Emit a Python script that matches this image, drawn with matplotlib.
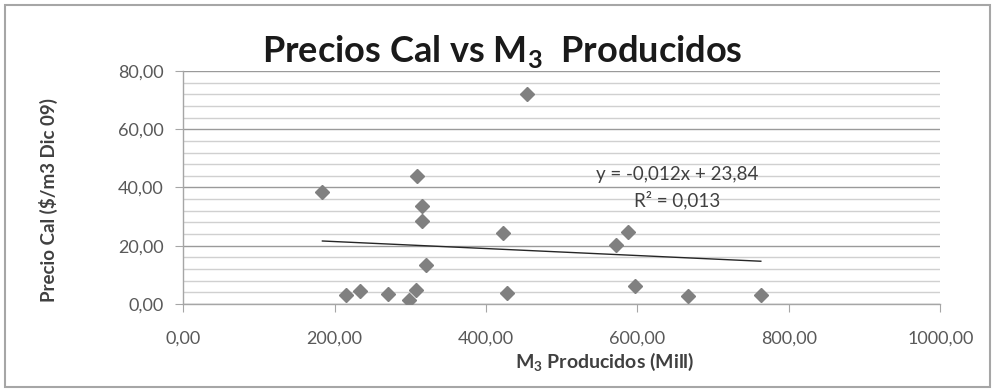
import matplotlib
matplotlib.use("Agg")
import matplotlib.pyplot as plt
from matplotlib.ticker import MultipleLocator, FuncFormatter
from matplotlib.patches import Rectangle
import numpy as np

# ---- data ----
m3_producidos = [184, 215, 234, 270, 298, 307, 309, 316, 316, 321, 422, 428, 454, 572, 587, 597, 667, 763]
precio_cal = [38.3, 3.2, 4.3, 3.4, 1.3, 4.7, 43.8, 33.5, 28.5, 13.3, 24.5, 3.8, 72.2, 20.1, 24.7, 6.1, 2.6, 3.1]
trend_slope = -0.012
trend_intercept = 23.84
x_ticks = [0, 200, 400, 600, 800, 1000]
y_ticks = [0, 20, 40, 60, 80]

FAM = ['Lato', 'DejaVu Sans']
plt.rcParams['font.family'] = FAM
plt.rcParams['mathtext.fontset'] = 'custom'
plt.rcParams['mathtext.rm'] = 'Lato'
plt.rcParams['mathtext.bf'] = 'Lato:bold'

fig = plt.figure(figsize=(9.95, 3.90), dpi=100)
fig.patch.set_facecolor('white')
fig.patches.append(Rectangle((5/995, 1-387/390), 985/995, 382/390, transform=fig.transFigure,
                             fill=False, edgecolor='#a6a6a6', lw=1.5))

ax = fig.add_axes([0.184, 0.2205, 0.761, 0.5975])
ax.set_xlim(0, 1000)
ax.set_ylim(0, 80)

ax.set_xticks(x_ticks)
ax.set_yticks(y_ticks)
ax.yaxis.set_minor_locator(MultipleLocator(4))
ax.grid(axis='y', which='minor', color='#d0d0d0', lw=1.0)
ax.grid(axis='y', which='major', color='#9a9a9a', lw=1.0)
ax.set_axisbelow(True)

fmt = FuncFormatter(lambda v, p: f"{v:.2f}".replace('.', ','))
ax.xaxis.set_major_formatter(fmt)
ax.yaxis.set_major_formatter(fmt)

for s in ['top', 'right']:
    ax.spines[s].set_visible(False)
for s in ['left', 'bottom']:
    ax.spines[s].set_color('#a6a6a6')
    ax.spines[s].set_linewidth(1.0)

ax.tick_params(axis='x', which='major', direction='out', length=6, color='#a6a6a6',
               pad=13, labelsize=13, labelcolor='#595959')
ax.tick_params(axis='y', which='major', direction='out', length=6, color='#a6a6a6',
               pad=8, labelsize=13, labelcolor='#595959')
ax.tick_params(axis='y', which='minor', length=0)

ax.plot(m3_producidos, precio_cal, linestyle='none', marker='D', markersize=7.5,
        color='#808080', markeredgecolor='#808080', zorder=3)

xs = np.array([min(m3_producidos), max(m3_producidos)])
ax.plot(xs, trend_slope * xs + trend_intercept, color='#262626', lw=1.0, zorder=2)

ax.text(652, 44.3, "y = -0,012x + 23,84", ha='center', va='center', fontsize=13.5, color='#404040')
ax.text(652, 35.7, "R² = 0,013", ha='center', va='center', fontsize=13.5, color='#404040')

fig.text(502/995, 1-52/390, r"Precios Cal vs M$_\mathbf{3}$  Producidos", ha='center', va='center',
         fontsize=26, fontweight='bold', color='#1a1a1a')
fig.text(605/995, 1-362/390, r"M$_\mathbf{3}$ Producidos (Mill)", ha='center', va='center',
         fontsize=14, fontweight='bold', color='#404040')
fig.text(48/995, 1-200/390, "Precio Cal ($/m3 Dic 09)", ha='center', va='center', rotation=90,
         fontsize=13.5, fontweight='bold', color='#404040')

fig.savefig("out.png", dpi=100, facecolor='white')
